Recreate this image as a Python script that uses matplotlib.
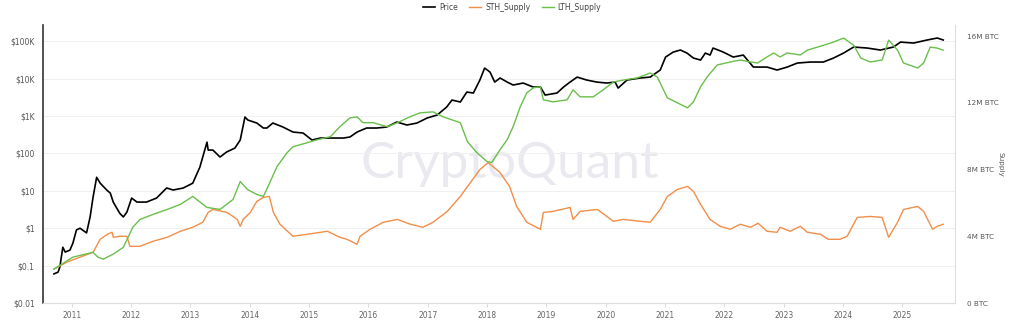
import matplotlib.pyplot as plt
from matplotlib.ticker import FixedLocator, FixedFormatter

# -------------------------------------------------------------
# Data (decimal year, value)
# -------------------------------------------------------------
price_years = [2010.70, 2010.77, 2010.80, 2010.85, 2010.89, 2010.97, 2011.02, 2011.08, 2011.14,
               2011.25, 2011.31, 2011.36, 2011.42, 2011.48, 2011.59, 2011.65, 2011.70, 2011.81,
               2011.87, 2011.93, 2012.01, 2012.10, 2012.26, 2012.43, 2012.60, 2012.71, 2012.88,
               2013.04, 2013.16, 2013.28, 2013.30, 2013.38, 2013.50, 2013.61, 2013.75, 2013.84,
               2013.92, 2013.97, 2014.12, 2014.23, 2014.29, 2014.39, 2014.56, 2014.73, 2014.90,
               2015.05, 2015.19, 2015.36, 2015.58, 2015.69, 2015.81, 2015.97, 2016.14, 2016.31,
               2016.48, 2016.65, 2016.82, 2016.99, 2017.16, 2017.32, 2017.41, 2017.55, 2017.66,
               2017.77, 2017.88, 2017.96, 2018.05, 2018.13, 2018.22, 2018.34, 2018.44, 2018.61,
               2018.78, 2018.90, 2018.98, 2019.18, 2019.29, 2019.40, 2019.52, 2019.68, 2019.85,
               2020.02, 2020.16, 2020.21, 2020.36, 2020.58, 2020.75, 2020.92, 2021.01, 2021.14,
               2021.26, 2021.37, 2021.48, 2021.60, 2021.68, 2021.76, 2021.81, 2021.98, 2022.15,
               2022.32, 2022.49, 2022.72, 2022.89, 2023.06, 2023.23, 2023.45, 2023.67, 2023.84,
               2024.01, 2024.18, 2024.41, 2024.63, 2024.85, 2024.97, 2025.19, 2025.42, 2025.59,
               2025.69]
price_values = [0.06, 0.067, 0.092, 0.31, 0.23, 0.26, 0.40, 0.90, 1.0,
                0.75, 2.0, 6.8, 23, 16, 10.5, 8.7, 5.0, 2.5,
                2.0, 2.7, 6.4, 5.0, 5.0, 6.4, 11.9, 10.5, 11.9,
                16, 43, 200, 123, 123, 80, 109, 139, 228,
                940, 780, 650, 478, 478, 650, 508, 373, 351,
                228, 258, 258, 258, 275, 373, 478, 478, 508,
                692, 575, 650, 885, 1065, 1740, 2680, 2370, 4380,
                4120, 9180, 19200, 15000, 8100, 10400, 8100, 6750, 7620,
                5960, 5960, 3640, 4120, 5960, 8100, 11000, 9180, 8100,
                7620, 8100, 5600, 9180, 10400, 11000, 17000, 37800, 51500,
                58200, 48300, 35500, 31400, 48300, 42700, 65800, 51500, 37800,
                42700, 20400, 20400, 17000, 20400, 26100, 27800, 27800, 35500,
                48300, 70000, 65800, 58200, 70000, 95000, 89500, 108000, 122000,
                108000]

lth_years = [2010.70, 2011.02, 2011.36, 2011.44, 2011.53, 2011.70, 2011.87, 2011.95, 2012.03,
             2012.15, 2012.37, 2012.61, 2012.83, 2013.04, 2013.28, 2013.50, 2013.72, 2013.84,
             2013.96, 2014.12, 2014.23, 2014.31, 2014.46, 2014.63, 2014.73, 2014.97, 2015.14,
             2015.36, 2015.52, 2015.69, 2015.81, 2015.91, 2016.08, 2016.32, 2016.49, 2016.70,
             2016.87, 2017.09, 2017.26, 2017.55, 2017.67, 2017.83, 2018.00, 2018.08, 2018.22,
             2018.34, 2018.44, 2018.56, 2018.67, 2018.78, 2018.90, 2018.95, 2019.11, 2019.35,
             2019.45, 2019.57, 2019.79, 2019.96, 2020.13, 2020.30, 2020.53, 2020.75, 2020.87,
             2021.04, 2021.21, 2021.38, 2021.48, 2021.60, 2021.71, 2021.88, 2022.10, 2022.27,
             2022.44, 2022.56, 2022.72, 2022.83, 2022.94, 2023.06, 2023.28, 2023.40, 2023.57,
             2023.79, 2024.01, 2024.18, 2024.30, 2024.46, 2024.66, 2024.77, 2024.92, 2025.02,
             2025.26, 2025.36, 2025.47, 2025.59, 2025.69]
lth_values = [2.03, 2.75, 3.04, 2.75, 2.63, 2.93, 3.34, 3.94, 4.54,
              5.01, 5.31, 5.61, 5.91, 6.39, 5.73, 5.61, 6.21, 7.28,
              6.81, 6.51, 6.39, 6.99, 8.18, 9.01, 9.37, 9.61, 9.79,
              9.97, 10.57, 11.10, 11.16, 10.81, 10.81, 10.57, 10.81, 11.16,
              11.40, 11.46, 11.16, 10.81, 9.67, 9.01, 8.48, 8.42, 9.19,
              9.79, 10.57, 11.76, 12.60, 12.90, 12.96, 12.18, 12.06, 12.18,
              12.78, 12.36, 12.36, 12.78, 13.25, 13.37, 13.49, 13.79, 13.55,
              12.30, 12.00, 11.70, 12.06, 12.96, 13.55, 14.27, 14.45, 14.57,
              14.45, 14.39, 14.75, 14.99, 14.75, 14.99, 14.87, 15.16, 15.34,
              15.58, 15.88, 15.46, 14.69, 14.45, 14.57, 15.76, 15.16, 14.39,
              14.09, 14.39, 15.34, 15.28, 15.16]

sth_years = [2010.70, 2010.92, 2011.14, 2011.36, 2011.48, 2011.60, 2011.68, 2011.70, 2011.81,
             2011.93, 2011.98, 2012.15, 2012.37, 2012.61, 2012.83, 2013.04, 2013.21, 2013.30,
             2013.38, 2013.62, 2013.79, 2013.84, 2013.89, 2014.01, 2014.12, 2014.23, 2014.33,
             2014.40, 2014.51, 2014.73, 2014.97, 2015.31, 2015.52, 2015.64, 2015.81, 2015.86,
             2016.03, 2016.25, 2016.49, 2016.71, 2016.92, 2017.09, 2017.33, 2017.55, 2017.72,
             2017.88, 2018.02, 2018.22, 2018.38, 2018.50, 2018.67, 2018.90, 2018.95, 2019.11,
             2019.40, 2019.45, 2019.57, 2019.86, 2020.02, 2020.13, 2020.30, 2020.58, 2020.75,
             2020.92, 2021.04, 2021.21, 2021.38, 2021.48, 2021.60, 2021.76, 2021.93, 2022.10,
             2022.27, 2022.44, 2022.57, 2022.72, 2022.89, 2022.94, 2023.11, 2023.28, 2023.40,
             2023.62, 2023.75, 2023.95, 2024.07, 2024.24, 2024.46, 2024.66, 2024.77, 2024.92,
             2025.02, 2025.26, 2025.36, 2025.51, 2025.59, 2025.69]
sth_values = [2.03, 2.45, 2.75, 3.04, 3.82, 4.12, 4.24, 3.94, 4.00,
              4.00, 3.40, 3.40, 3.70, 3.94, 4.30, 4.54, 4.84, 5.43,
              5.61, 5.43, 5.01, 4.60, 5.01, 5.43, 6.09, 6.33, 6.39,
              5.43, 4.72, 4.00, 4.12, 4.30, 3.94, 3.82, 3.52, 4.00,
              4.42, 4.84, 5.01, 4.72, 4.54, 4.84, 5.49, 6.39, 7.22,
              8.00, 8.42, 7.82, 6.99, 5.79, 4.84, 4.42, 5.43, 5.49,
              5.73, 5.01, 5.49, 5.61, 5.19, 4.90, 5.01, 4.90, 4.84,
              5.61, 6.39, 6.81, 6.99, 6.69, 5.91, 5.01, 4.60, 4.42,
              4.72, 4.54, 4.78, 4.30, 4.24, 4.54, 4.30, 4.60, 4.24,
              4.12, 3.82, 3.82, 4.00, 5.13, 5.19, 5.13, 3.94, 4.84,
              5.61, 5.79, 5.49, 4.42, 4.60, 4.72]

year_ticks = list(range(2011, 2026))
price_ticks = [0.01, 0.1, 1, 10, 100, 1e3, 1e4, 1e5]
price_labels = ["$0.01", "$0.1", "$1", "$10", "$100", "$1K", "$10K", "$100K"]
supply_ticks = [0, 4, 8, 12, 16]
supply_labels = ["0 BTC", "4M BTC", "8M BTC", "12M BTC", "16M BTC"]

# -------------------------------------------------------------
# Figure
# -------------------------------------------------------------
fig = plt.figure(figsize=(10.24, 3.22), dpi=100)
ax = fig.add_axes([0.042, 0.059, 0.891, 0.863])
ax2 = ax.twinx()

txt_col = "#666666"
ax.text(0.512, 0.50, "CryptoQuant", transform=ax.transAxes, ha="center", va="center",
        fontsize=37, color="#e9e9ef", family="Lato", zorder=0)

ln_p, = ax.plot(price_years, price_values, color="black", lw=1.2, label="Price", zorder=3)
ln_s, = ax2.plot(sth_years, sth_values, color="#f28e4a", lw=1.0, label="STH_Supply")
ln_l, = ax2.plot(lth_years, lth_values, color="#6abf4b", lw=1.0, label="LTH_Supply")

ax.set_yscale("log")
ax.set_ylim(0.01, 2.7e5)
ax.set_xlim(2010.516, 2025.895)
ax2.set_ylim(0, 16.66)

ax.yaxis.set_major_locator(FixedLocator(price_ticks))
ax.yaxis.set_major_formatter(FixedFormatter(price_labels))
ax.yaxis.set_minor_locator(FixedLocator([]))
ax.set_xticks(year_ticks)
ax.set_xticklabels([str(y) for y in year_ticks])
ax2.set_yticks(supply_ticks)
ax2.set_yticklabels(supply_labels)

ax.grid(axis="y", color="#f0f0f0", lw=0.7)
ax.tick_params(axis="y", length=0, labelsize=5.5, labelcolor="#555555", pad=6)
ax.tick_params(axis="x", length=3, color="#dddddd", labelsize=5.5, labelcolor=txt_col, pad=2.5)
ax2.tick_params(axis="y", length=0, labelsize=5.2, labelcolor="#555555", pad=8)

for a in (ax, ax2):
    a.spines["top"].set_visible(False)
    a.spines["bottom"].set_color("#dddddd")
    a.spines["left"].set_visible(False)
    a.spines["right"].set_visible(False)
ax.spines["left"].set_visible(True)
ax.spines["left"].set_color("#333333")
ax.spines["left"].set_linewidth(1.2)
ax2.spines["right"].set_visible(True)
ax2.spines["right"].set_color("#dddddd")

# right-axis title placed beside the tick labels
fig.text(0.977, 0.49, "Supply", rotation=270, fontsize=5.2, color="#555555",
         ha="center", va="center")

fig.legend(handles=[ln_p, ln_s, ln_l], loc="upper center", bbox_to_anchor=(0.5, 1.012),
           ncol=3, frameon=False, fontsize=5.5, handlelength=1.6, columnspacing=1.5,
           handletextpad=0.5, labelcolor="#444444")

fig.savefig("out.png", dpi=100)
